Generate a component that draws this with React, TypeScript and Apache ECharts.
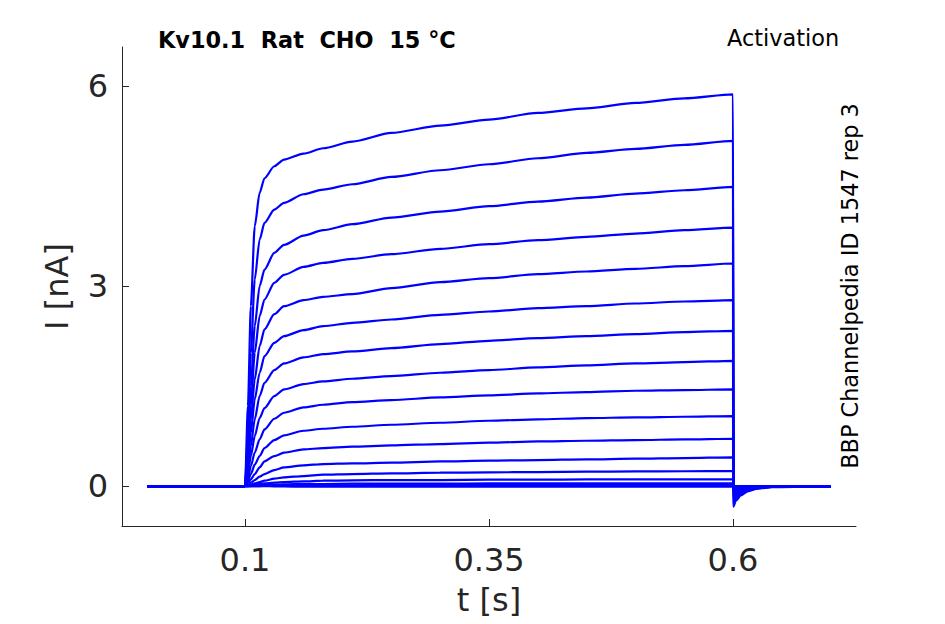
import React, { useEffect, useRef } from "react";
import * as echarts from "echarts";

// time points (s)
const BASE_T = [0, 0.1];
const STEP_T = [0.103, 0.106, 0.11, 0.115, 0.12, 0.13, 0.14, 0.16, 0.18, 0.21, 0.25, 0.3, 0.35, 0.4, 0.45, 0.5, 0.55, 0.6];
const TAIL_T = [0.6003, 0.603, 0.608, 0.615, 0.625, 0.64, 0.7];

// currents (nA) during the step, one row per sweep
const STEP_I = [
  [1.2, 2.7, 3.9, 4.4, 4.62, 4.8, 4.9, 4.99, 5.07, 5.17, 5.3, 5.41, 5.5, 5.6, 5.67, 5.75, 5.82, 5.88],
  [0.8, 2.0, 3.1, 3.7, 3.95, 4.15, 4.25, 4.38, 4.45, 4.53, 4.64, 4.74, 4.83, 4.92, 5.0, 5.06, 5.12, 5.18],
  [0.6, 1.5, 2.4, 3.0, 3.25, 3.5, 3.62, 3.76, 3.84, 3.93, 4.03, 4.12, 4.2, 4.27, 4.33, 4.39, 4.44, 4.49],
  [0.5, 1.2, 2.0, 2.55, 2.8, 3.05, 3.17, 3.29, 3.35, 3.41, 3.48, 3.56, 3.63, 3.69, 3.74, 3.79, 3.84, 3.88],
  [0.45, 1.0, 1.6, 2.1, 2.35, 2.58, 2.7, 2.79, 2.84, 2.88, 2.97, 3.06, 3.12, 3.18, 3.22, 3.26, 3.3, 3.34],
  [0.35, 0.8, 1.3, 1.7, 1.95, 2.15, 2.25, 2.34, 2.4, 2.45, 2.5, 2.57, 2.62, 2.67, 2.7, 2.74, 2.77, 2.79],
  [0.25, 0.6, 1.0, 1.35, 1.55, 1.74, 1.84, 1.93, 1.98, 2.02, 2.07, 2.13, 2.18, 2.22, 2.25, 2.28, 2.31, 2.33],
  [0.2, 0.45, 0.75, 1.02, 1.17, 1.35, 1.45, 1.53, 1.57, 1.61, 1.65, 1.7, 1.74, 1.78, 1.81, 1.84, 1.86, 1.88],
  [0.12, 0.3, 0.5, 0.7, 0.85, 1.01, 1.1, 1.18, 1.22, 1.26, 1.29, 1.33, 1.36, 1.39, 1.41, 1.43, 1.44, 1.45],
  [0.08, 0.18, 0.32, 0.45, 0.57, 0.69, 0.76, 0.83, 0.86, 0.89, 0.92, 0.95, 0.98, 1.0, 1.02, 1.03, 1.04, 1.05],
  [0.05, 0.1, 0.18, 0.28, 0.37, 0.45, 0.5, 0.55, 0.57, 0.59, 0.61, 0.63, 0.65, 0.67, 0.68, 0.69, 0.7, 0.71],
  [0.02, 0.05, 0.09, 0.14, 0.18, 0.24, 0.28, 0.31, 0.33, 0.34, 0.35, 0.37, 0.38, 0.39, 0.4, 0.41, 0.42, 0.43],
  [0.01, 0.02, 0.04, 0.06, 0.08, 0.11, 0.13, 0.15, 0.17, 0.18, 0.19, 0.2, 0.205, 0.21, 0.215, 0.22, 0.222, 0.225],
  [0, 0.01, 0.02, 0.03, 0.04, 0.05, 0.06, 0.07, 0.08, 0.085, 0.09, 0.09, 0.095, 0.095, 0.1, 0.1, 0.1, 0.1],
  [0, 0, 0.01, 0.01, 0.015, 0.02, 0.025, 0.03, 0.03, 0.035, 0.035, 0.035, 0.04, 0.04, 0.04, 0.04, 0.04, 0.04],
  [0, 0, 0, 0, 0.005, 0.005, 0.01, 0.01, 0.01, 0.01, 0.015, 0.015, 0.015, 0.015, 0.015, 0.015, 0.015, 0.015],
  [0, 0, 0, 0, 0, -0.005, -0.005, -0.01, -0.01, -0.01, -0.01, -0.01, -0.01, -0.01, -0.01, -0.01, -0.01, -0.01],
];

// tail currents (nA) after the step, one row per sweep
const TAIL_I = [
  [-0.31, -0.22, -0.14, -0.08, -0.04, -0.015, 0],
  [-0.27, -0.19, -0.12, -0.07, -0.035, -0.012, 0],
  [-0.23, -0.16, -0.1, -0.06, -0.03, -0.01, 0],
  [-0.2, -0.14, -0.09, -0.05, -0.025, -0.01, 0],
  [-0.17, -0.12, -0.07, -0.04, -0.02, -0.008, 0],
  [-0.14, -0.1, -0.06, -0.035, -0.018, -0.006, 0],
  [-0.12, -0.08, -0.05, -0.03, -0.015, -0.005, 0],
  [-0.1, -0.07, -0.04, -0.025, -0.012, -0.004, 0],
  [-0.08, -0.05, -0.03, -0.02, -0.01, -0.003, 0],
  [-0.06, -0.04, -0.025, -0.015, -0.008, -0.002, 0],
  [-0.04, -0.03, -0.018, -0.01, -0.005, -0.002, 0],
  [-0.03, -0.02, -0.012, -0.007, -0.003, -0.001, 0],
  [-0.02, -0.012, -0.008, -0.004, -0.002, 0, 0],
  [-0.01, -0.006, -0.003, -0.002, -0.001, 0, 0],
  [-0.01, -0.006, -0.003, -0.002, -0.001, 0, 0],
  [-0.01, -0.006, -0.003, -0.002, -0.001, 0, 0],
  [-0.01, -0.006, -0.003, -0.002, -0.001, 0, 0],
];

const X_TICKS = [0.1, 0.35, 0.6];
const Y_TICKS = [0, 3, 6];

const TITLE = "Kv10.1  Rat  CHO  15 °C";
const PROTOCOL = "Activation";
const SOURCE = "BBP Channelpedia ID 1547 rep 3";

export default function App() {
  const ref = useRef<HTMLDivElement>(null);
  useEffect(() => {
    const chart = echarts.init(ref.current!, null, { renderer: "svg" });
    const axisColor = "#262626";
    const font = "DejaVu Sans";
    const series = STEP_I.map((row, i) => ({
      type: "line",
      data: [
        ...BASE_T.map((t) => [t, 0]),
        ...STEP_T.map((t, j) => [t, row[j]]),
        ...TAIL_T.map((t, j) => [t, TAIL_I[i][j]]),
      ],
      showSymbol: false,
      symbol: "none",
      smooth: 0.25,
      smoothMonotone: "x",
      lineStyle: { color: "#0000ff", width: 2.2 },
      silent: true,
    }));
    chart.setOption({
      animation: false,
      backgroundColor: "#ffffff",
      grid: { left: 122, right: 89, top: 47, bottom: 98, containLabel: false, outerBoundsMode: "none" },
      xAxis: {
        type: "value",
        min: -0.026,
        max: 0.726,
        name: "t [s]",
        nameLocation: "middle",
        nameGap: 58,
        nameTextStyle: { fontFamily: font, fontSize: 32, color: axisColor },
        axisLine: { show: true, onZero: false, lineStyle: { color: axisColor, width: 1 } },
        axisTick: { show: true, inside: true, length: 7, customValues: X_TICKS, lineStyle: { color: axisColor } },
        axisLabel: {
          customValues: X_TICKS,
          margin: 18,
          fontFamily: font,
          fontSize: 32,
          color: axisColor,
          formatter: (v: number) => String(v),
        },
        splitLine: { show: false },
      },
      yAxis: {
        type: "value",
        min: -0.6,
        max: 6.59,
        name: "I [nA]",
        nameLocation: "middle",
        nameGap: 49,
        nameTextStyle: { fontFamily: font, fontSize: 32, color: axisColor },
        axisLine: { show: true, onZero: false, lineStyle: { color: axisColor, width: 1 } },
        axisTick: { show: true, inside: true, length: 7, customValues: Y_TICKS, lineStyle: { color: axisColor } },
        axisLabel: {
          customValues: Y_TICKS,
          margin: 14,
          fontFamily: font,
          fontSize: 32,
          color: axisColor,
          formatter: (v: number) => String(v),
        },
        splitLine: { show: false },
      },
      graphic: [
        {
          type: "text",
          x: 158,
          y: 40,
          style: { text: TITLE, fontFamily: font, fontSize: 22.4, fontWeight: "bold", fill: "#000", textAlign: "left", textVerticalAlign: "middle" },
        },
        {
          type: "text",
          x: 727,
          y: 38,
          style: { text: PROTOCOL, fontFamily: font, fontSize: 22.4, fill: "#000", textAlign: "left", textVerticalAlign: "middle" },
        },
        {
          type: "text",
          x: 850,
          y: 286,
          rotation: Math.PI / 2,
          style: { text: SOURCE, fontFamily: font, fontSize: 22.4, fill: "#000", textAlign: "center", textVerticalAlign: "middle" },
        },
      ],
      series,
    });
    return () => chart.dispose();
  }, []);
  return <div ref={ref} style={{ position: "fixed", left: 0, top: 0, width: 945, height: 624 }} />;
}
